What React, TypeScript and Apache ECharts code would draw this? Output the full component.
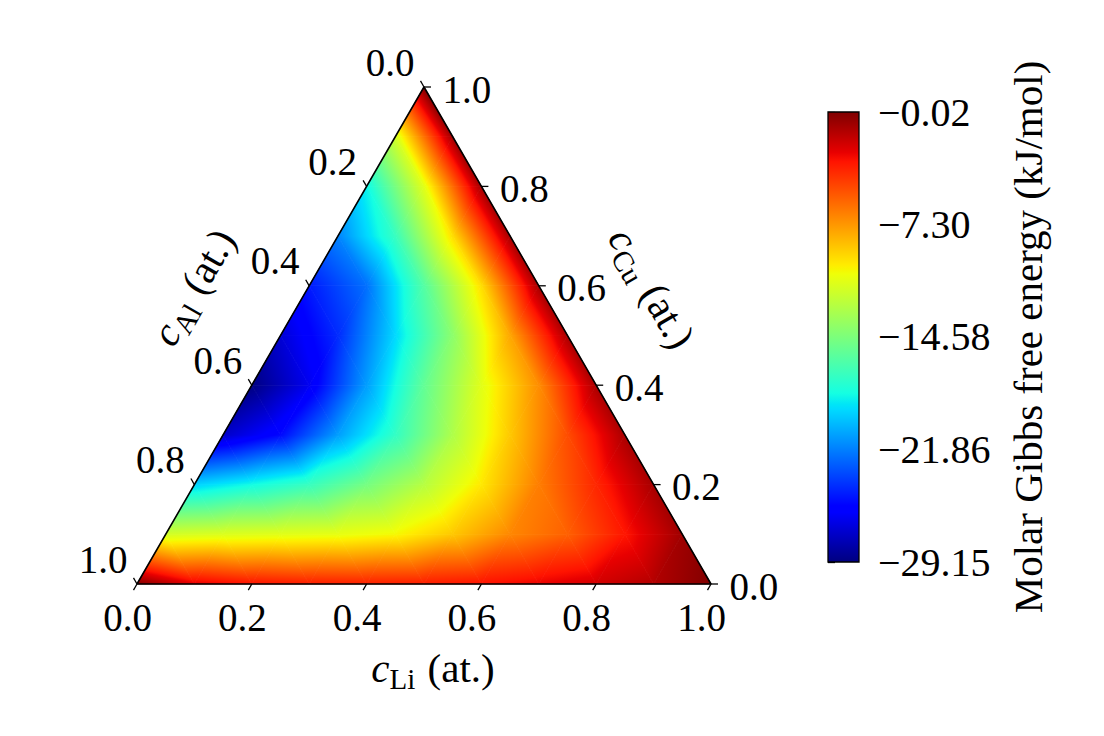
import React, { useEffect, useRef } from "react";
import * as echarts from "echarts";

const FONT = '"Liberation Serif", "Times New Roman", serif';
const SQ = Math.sqrt(3) / 2;

// Colour range of the colour bar (kJ/mol)
const VMIN = -29.15;
const VMAX = -0.02;
const cbarTicks = [-29.15, -21.86, -14.58, -7.3, -0.02];

// Ternary axis ticks
const ternTicks = [0, 0.2, 0.4, 0.6, 0.8, 1.0];

// Grid of the Gibbs field, step 0.1. Row r: c_Cu = r/10; column i: c_Li = i/10; c_Al = 1 - c_Li - c_Cu
const gridStep = 0.1;
const gibbsRows: number[][] = [
  [-0.05, -2.5, -3.2, -3.5, -3.6, -3.5, -3.2, -2.7, -2.1, -1.3, -0.05], // c_Cu = 0.0
  [-11.5, -11.2, -11.0, -10.8, -10.3, -8.8, -6.8, -5.6, -3.3, -0.8], // 0.1
  [-19.5, -18.3, -17.0, -14.8, -12.5, -9.8, -6.5, -3.8, -1.0], // 0.2
  [-27.3, -25.3, -21.0, -17.2, -12.8, -8.8, -5.0, -1.1], // 0.3
  [-29.1, -26.3, -21.0, -15.5, -11.0, -7.0, -1.1], // 0.4
  [-27.0, -24.3, -19.3, -14.0, -7.8, -1.1], // 0.5
  [-24.8, -22.3, -16.0, -9.5, -1.0], // 0.6
  [-21.7, -17.0, -9.5, -1.0], // 0.7
  [-18.5, -11.0, -0.9], // 0.8
  [-11.5, -0.8], // 0.9
  [-0.05], // 1.0
];

// matplotlib "jet" colormap definition
const jetR = [[0, 0], [0.35, 0], [0.66, 1], [0.89, 1], [1, 0.5]];
const jetG = [[0, 0], [0.125, 0], [0.375, 1], [0.64, 1], [0.91, 0], [1, 0]];
const jetB = [[0, 0.5], [0.11, 1], [0.34, 1], [0.65, 0], [1, 0]];
const JET_BREAKS = [0, 0.11, 0.125, 0.34, 0.35, 0.375, 0.64, 0.65, 0.66, 0.89, 0.91, 1];

function chan(pts: number[][], t: number) {
  for (let k = 1; k < pts.length; k++) {
    if (t <= pts[k][0]) {
      const [t0, v0] = pts[k - 1];
      const [t1, v1] = pts[k];
      return v0 + ((v1 - v0) * (t - t0)) / (t1 - t0);
    }
  }
  return pts[pts.length - 1][1];
}
function jet(t: number) {
  t = Math.max(0, Math.min(1, t));
  const r = Math.round(chan(jetR, t) * 255);
  const g = Math.round(chan(jetG, t) * 255);
  const b = Math.round(chan(jetB, t) * 255);
  return `rgb(${r},${g},${b})`;
}
const toT = (v: number) => Math.max(0, Math.min(1, (v - VMIN) / (VMAX - VMIN)));

function toCart(cLi: number, cCu: number) {
  return [cLi + cCu / 2, cCu * SQ];
}

// Build triangle cells from the grid
function buildTriangles() {
  const tris: number[][] = [];
  const n = gibbsRows.length - 1;
  const node = (i: number, j: number) => {
    const [x, y] = toCart(i * gridStep, j * gridStep);
    return [x, y, gibbsRows[j][i]];
  };
  for (let j = 0; j < n; j++) {
    for (let i = 0; i <= n - 1 - j; i++) {
      tris.push([...node(i, j), ...node(i + 1, j), ...node(i, j + 1)]);
      if (i <= n - 2 - j) {
        tris.push([...node(i + 1, j), ...node(i + 1, j + 1), ...node(i, j + 1)]);
      }
    }
  }
  return tris;
}

function buildTickData() {
  const out: number[][] = [];
  for (let a = 0; a < 3; a++) ternTicks.forEach((t) => out.push([a, t]));
  return out;
}

const rich = {
  c: { fontFamily: FONT, fontSize: 41, fontStyle: "italic" as const, verticalAlign: "top" as const, lineHeight: 41, fill: "#000" },
  s: { fontFamily: FONT, fontSize: 29, verticalAlign: "top" as const, lineHeight: 29, padding: [17, 2, 0, 0], fill: "#000" },
  n: { fontFamily: FONT, fontSize: 41, verticalAlign: "top" as const, lineHeight: 41, fill: "#000" },
};

export default function App() {
  const ref = useRef<HTMLDivElement>(null);
  useEffect(() => {
    const chart = echarts.init(ref.current!, undefined, { renderer: "svg", width: 1104, height: 736 });
    const option: any = {
      animation: false,
      backgroundColor: "#fff",
      grid: [
        { left: 137, top: 87, width: 574, height: 497 },
        { left: 828, top: 112, width: 31, height: 450 },
      ],
      xAxis: [
        { type: "value", gridIndex: 0, min: 0, max: 1, show: false },
        { type: "value", gridIndex: 1, min: 0, max: 1, show: false },
      ],
      yAxis: [
        { type: "value", gridIndex: 0, min: 0, max: SQ, show: false },
        {
          type: "value",
          gridIndex: 1,
          min: VMIN,
          max: VMAX,
          position: "right",
          axisLine: { show: false },
          splitLine: { show: false },
          axisTick: { show: true, length: 7, customValues: cbarTicks, lineStyle: { color: "#000", width: 1.3 } },
          axisLabel: {
            customValues: cbarTicks,
            margin: 19,
            color: "#000",
            fontSize: 40,
            fontFamily: FONT,
            formatter: (v: number) => v.toFixed(2).replace("-", "\u2212"),
          },
        },
      ],
      series: [
        {
          type: "custom",
          name: "field",
          xAxisIndex: 0,
          yAxisIndex: 0,
          silent: true,
          data: buildTriangles(),
          renderItem: (params: any, api: any) => {
            const P = [0, 1, 2].map((k) => api.coord([api.value(3 * k), api.value(3 * k + 1)]));
            const V = [0, 1, 2].map((k) => api.value(3 * k + 2));
            const d1x = P[1][0] - P[0][0], d1y = P[1][1] - P[0][1];
            const d2x = P[2][0] - P[0][0], d2y = P[2][1] - P[0][1];
            const dv1 = V[1] - V[0], dv2 = V[2] - V[0];
            const det = d1x * d2y - d1y * d2x;
            const a = (dv1 * d2y - d1y * dv2) / det;
            const b = (d1x * dv2 - dv1 * d2x) / det;
            const vmin = Math.min(...V), vmax = Math.max(...V);
            const g2 = a * a + b * b;
            let fill: any;
            if (vmax - vmin < 1e-9 || g2 < 1e-12) {
              fill = jet(toT(vmin));
            } else {
              const kmin = V.indexOf(vmin);
              const sx = P[kmin][0], sy = P[kmin][1];
              const f = (vmax - vmin) / g2;
              const ex = sx + a * f, ey = sy + b * f;
              const t0 = toT(vmin), t1 = toT(vmax);
              const stops: any[] = [{ offset: 0, color: jet(t0) }];
              if (t1 - t0 > 1e-9) {
                JET_BREAKS.forEach((bk) => {
                  if (bk > t0 && bk < t1) stops.push({ offset: (bk - t0) / (t1 - t0), color: jet(bk) });
                });
              }
              stops.push({ offset: 1, color: jet(t1) });
              fill = new echarts.graphic.LinearGradient(sx, sy, ex, ey, stops, true);
            }
            return {
              type: "polygon",
              shape: { points: P },
              style: { fill, stroke: fill, lineWidth: 0.8, lineJoin: "round" },
            };
          },
          z: 1,
        },
        {
          type: "line",
          name: "frame",
          xAxisIndex: 0,
          yAxisIndex: 0,
          silent: true,
          symbol: "none",
          clip: false,
          data: [toCart(0, 0), toCart(1, 0), toCart(0, 1), toCart(0, 0)],
          lineStyle: { color: "#000", width: 1.6 },
          z: 3,
        },
        {
          type: "custom",
          name: "ternaryTicks",
          xAxisIndex: 0,
          yAxisIndex: 0,
          silent: true,
          data: buildTickData(),
          renderItem: (params: any, api: any) => {
            const axis = api.value(0);
            const t = api.value(1);
            let p: number[], dir: number[], tx: number, ty: number, align: string;
            if (axis === 0) {
              p = api.coord(toCart(t, 0));
              dir = [-0.5, SQ];
              tx = p[0] - 9.5; ty = p[1] + 33; align = "center";
            } else if (axis === 1) {
              p = api.coord(toCart(0, 1 - t));
              dir = [-0.5, -SQ];
              tx = p[0] - 34; ty = p[1] - 25; align = "center";
            } else {
              p = api.coord(toCart(1 - t, t));
              dir = [1, 0];
              tx = p[0] + 18.5; ty = p[1] + 2; align = "left";
            }
            return {
              type: "group",
              children: [
                {
                  type: "line",
                  shape: { x1: p[0], y1: p[1], x2: p[0] + dir[0] * 7, y2: p[1] + dir[1] * 7 },
                  style: { stroke: "#000", lineWidth: 1.3 },
                },
                {
                  type: "text",
                  x: tx,
                  y: ty,
                  style: { text: t.toFixed(1), fill: "#000", fontSize: 39, fontFamily: FONT, align, verticalAlign: "middle" },
                },
              ],
            };
          },
          z: 4,
        },
        {
          type: "custom",
          name: "colorbar",
          xAxisIndex: 1,
          yAxisIndex: 1,
          silent: true,
          data: [[0]],
          renderItem: (params: any, api: any) => {
            const p0 = api.coord([0, VMIN]);
            const p1 = api.coord([1, VMAX]);
            const stops = JET_BREAKS.map((bk) => ({ offset: bk, color: jet(bk) }));
            return {
              type: "rect",
              shape: { x: p0[0], y: p1[1], width: p1[0] - p0[0], height: p0[1] - p1[1] },
              style: { fill: new echarts.graphic.LinearGradient(0, 1, 0, 0, stops), stroke: "#000", lineWidth: 1.3 },
            };
          },
        },
      ],
      graphic: [
        { type: "text", x: 433, y: 668, silent: true, style: { text: "{c|c}{s|Li}{n| (at.)}", rich, align: "center", verticalAlign: "middle" } },
        { type: "text", x: 193, y: 287, rotation: Math.PI / 3, silent: true, style: { text: "{c|c}{s|Al}{n| (at.)}", rich, align: "center", verticalAlign: "middle" } },
        { type: "text", x: 652, y: 288, rotation: -Math.PI / 3, silent: true, style: { text: "{c|c}{s|Cu}{n| (at.)}", rich, align: "center", verticalAlign: "middle" } },
        {
          type: "text",
          x: 1028,
          y: 337,
          rotation: Math.PI / 2,
          silent: true,
          style: { text: "Molar Gibbs free energy (kJ/mol)", fill: "#000", fontSize: 41, fontFamily: FONT, align: "center", verticalAlign: "middle" },
        },
      ],
    };
    chart.setOption(option);
    return () => chart.dispose();
  }, []);
  return <div ref={ref} style={{ position: "fixed", left: 0, top: 0, width: 1104, height: 736, background: "#fff" }} />;
}
